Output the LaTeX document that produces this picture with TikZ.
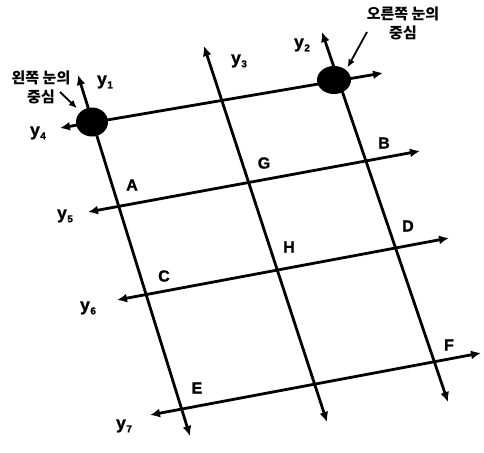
\documentclass[tikz,border=0pt]{standalone}
\usepackage{fontspec}
\setmainfont{Liberation Sans}[BoldFeatures={FakeBold=1.2}]
\newfontfamily\kofont{Noto Sans CJK KR}
\usetikzlibrary{arrows.meta,shapes.geometric}
\newcommand{\ylab}[1]{y\kern0.5pt\raisebox{-3.5pt}{\fontsize{10}{10}\selectfont #1}}
\tikzset{
  axis/.style={line width=2.8pt,{Latex[length=10pt,width=9pt]}-{Latex[length=10pt,width=9pt]}},
  ptr/.style={line width=1.8pt,-{Latex[length=8pt,width=7pt]}},
  lbl/.style={font=\bfseries\fontsize{16}{18}\selectfont,inner sep=0pt},
  ylbl/.style={font=\bfseries\fontsize{17.5}{18}\selectfont,inner sep=0pt},
  kor/.style={font=\kofont\bfseries\fontsize{15}{19}\selectfont,align=center,inner sep=0pt},
  eye/.style={ellipse,fill=black,inner sep=0pt,minimum width=32pt,minimum height=29pt}
}
\begin{document}
\begin{tikzpicture}[x=1pt,y=-1pt]
\useasboundingbox (0,0) rectangle (484,452);
% line ends
\coordinate (t1) at (78,75);   \coordinate (b1) at (190,436);
\coordinate (t2) at (322,32);  \coordinate (b2) at (448,402);
\coordinate (t3) at (204,46);  \coordinate (b3) at (327,422);
\coordinate (l4) at (60,128);  \coordinate (r4) at (383,73);
\coordinate (l5) at (88,212);  \coordinate (r5) at (420,151);
\coordinate (l6) at (117,300); \coordinate (r6) at (449,238);
\coordinate (l7) at (150,415); \coordinate (r7) at (481,353);
\draw[axis] (t1) -- (b1);
\draw[axis] (t2) -- (b2);
\draw[axis] (t3) -- (b3);
\draw[axis] (l4) -- (r4);
\draw[axis] (l5) -- (r5);
\draw[axis] (l6) -- (r6);
\draw[axis] (l7) -- (r7);
% eye centres
\node[eye] (leye) at (92,122) {};
\node[eye,minimum width=34pt,minimum height=28pt] (reye) at (334,80) {};
\node[kor] (lcap) at (41,87) {왼쪽 눈의\\중심};
\node[kor] (rcap) at (403,23) {오른쪽 눈의\\중심};
\coordinate (lp) at (60,92);
\coordinate (rp) at (367,32);
\draw[ptr,shorten >=5pt] (lp) -- (leye.north west);
\draw[ptr,shorten >=3pt] (rp) -- (reye.north east);
% line names
\node[ylbl] (y1) at (105,82) {\ylab{1}};
\node[ylbl] (y2) at (302,45) {\ylab{2}};
\node[ylbl] (y3) at (239,61) {\ylab{3}};
\node[ylbl] (y4) at (38,133) {\ylab{4}};
\node[ylbl] (y5) at (65,216) {\ylab{5}};
\node[ylbl] (y6) at (88,308) {\ylab{6}};
\node[ylbl] (y7) at (124,426) {\ylab{7}};
% points
\node[lbl] (pA) at (132,185) {A};
\node[lbl] (pG) at (264,163) {G};
\node[lbl] (pB) at (384,143) {B};
\node[lbl] (pC) at (164,276) {C};
\node[lbl] (pH) at (289,247) {H};
\node[lbl] (pD) at (408,226) {D};
\node[lbl] (pE) at (197,388) {E};
\node[lbl] (pF) at (449,345) {F};
\end{tikzpicture}
\end{document}
